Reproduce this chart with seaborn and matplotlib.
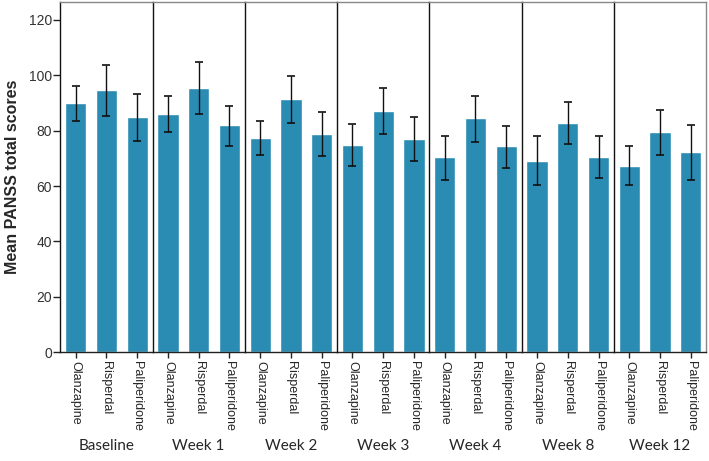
import numpy as np
import pandas as pd
import matplotlib
matplotlib.use('Agg')
import matplotlib.pyplot as plt
import seaborn as sns

# 시점별 / 약물별 평균 PANSS 점수와 오차막대
weeks = ['Baseline', 'Week 1', 'Week 2', 'Week 3', 'Week 4', 'Week 8', 'Week 12']
drugs = ['Olanzapine', 'Risperdal', 'Paliperidone']

olanzapine_mean = [89.9, 86.1, 77.4, 74.9, 70.4, 69.2, 67.2]
olanzapine_lo = [83.6, 79.5, 71.2, 67.4, 62.2, 60.2, 60.2]
olanzapine_hi = [96.1, 92.5, 83.5, 82.5, 78.1, 77.9, 74.3]

risperdal_mean = [94.7, 95.4, 91.3, 87.2, 84.4, 82.7, 79.4]
risperdal_lo = [85.3, 86.0, 82.7, 78.9, 75.9, 75.0, 71.2]
risperdal_hi = [103.6, 104.7, 99.7, 95.3, 92.5, 90.2, 87.4]

paliperidone_mean = [84.8, 81.9, 78.9, 77.1, 74.3, 70.6, 72.3]
paliperidone_lo = [76.1, 74.5, 70.8, 69.1, 66.6, 62.8, 62.2]
paliperidone_hi = [93.2, 88.9, 86.8, 84.8, 81.8, 78.0, 82.2]

bar_color = '#2a8cb2'

sns.set_style('white')
plt.rcParams['font.family'] = ['Liberation Sans', 'DejaVu Sans']

fig, axes = plt.subplots(1, len(weeks), figsize=(7.09, 4.61), dpi=100, sharey=True)
fig.subplots_adjust(left=0.085, right=0.996, top=0.996, bottom=0.236, wspace=0)

for i, (ax, wk) in enumerate(zip(axes, weeks)):
    df = pd.DataFrame({
        'drug': drugs,
        'mean': [olanzapine_mean[i], risperdal_mean[i], paliperidone_mean[i]],
        'lo': [olanzapine_lo[i], risperdal_lo[i], paliperidone_lo[i]],
        'hi': [olanzapine_hi[i], risperdal_hi[i], paliperidone_hi[i]],
    })
    sns.barplot(data=df, x='drug', y='mean', order=drugs, color=bar_color,
                saturation=1, width=0.69, errorbar=None, ax=ax)
    ax.errorbar(np.arange(len(drugs)), df['mean'],
                yerr=[df['mean'] - df['lo'], df['hi'] - df['mean']],
                fmt='none', ecolor='#111111', elinewidth=1.0, capsize=3, capthick=1.2)

    ax.set_ylim(0, 126.5)
    ax.set_xlim(-0.5, 2.5)
    ax.set_yticks([0, 20, 40, 60, 80, 100, 120])
    ax.set_xlabel(wk, family='Lato', fontsize=11, labelpad=6)
    ax.set_ylabel('')
    ax.tick_params(axis='x', bottom=True, length=4, width=1, color='#222222',
                   labelrotation=-90, labelsize=9, pad=2)
    for lab in ax.get_xticklabels():
        lab.set_va('top')
        lab.set_ha('center')

    for s in ax.spines.values():
        s.set_linewidth(1.0)
    ax.spines['top'].set_color('#888888')
    ax.spines['bottom'].set_color('#222222')
    ax.spines['left'].set_color('#111111')
    ax.spines['right'].set_visible(i == len(weeks) - 1)
    ax.spines['right'].set_color('#888888')

    if i == 0:
        ax.tick_params(axis='y', left=True, length=5, width=1, color='#222222',
                       labelsize=10, labelcolor='#333333', pad=1)
        ax.set_ylabel('Mean PANSS total scores', fontsize=11.5, fontweight='bold',
                      labelpad=6)
    else:
        ax.tick_params(axis='y', left=False)

plt.savefig('out.png', dpi=100)
